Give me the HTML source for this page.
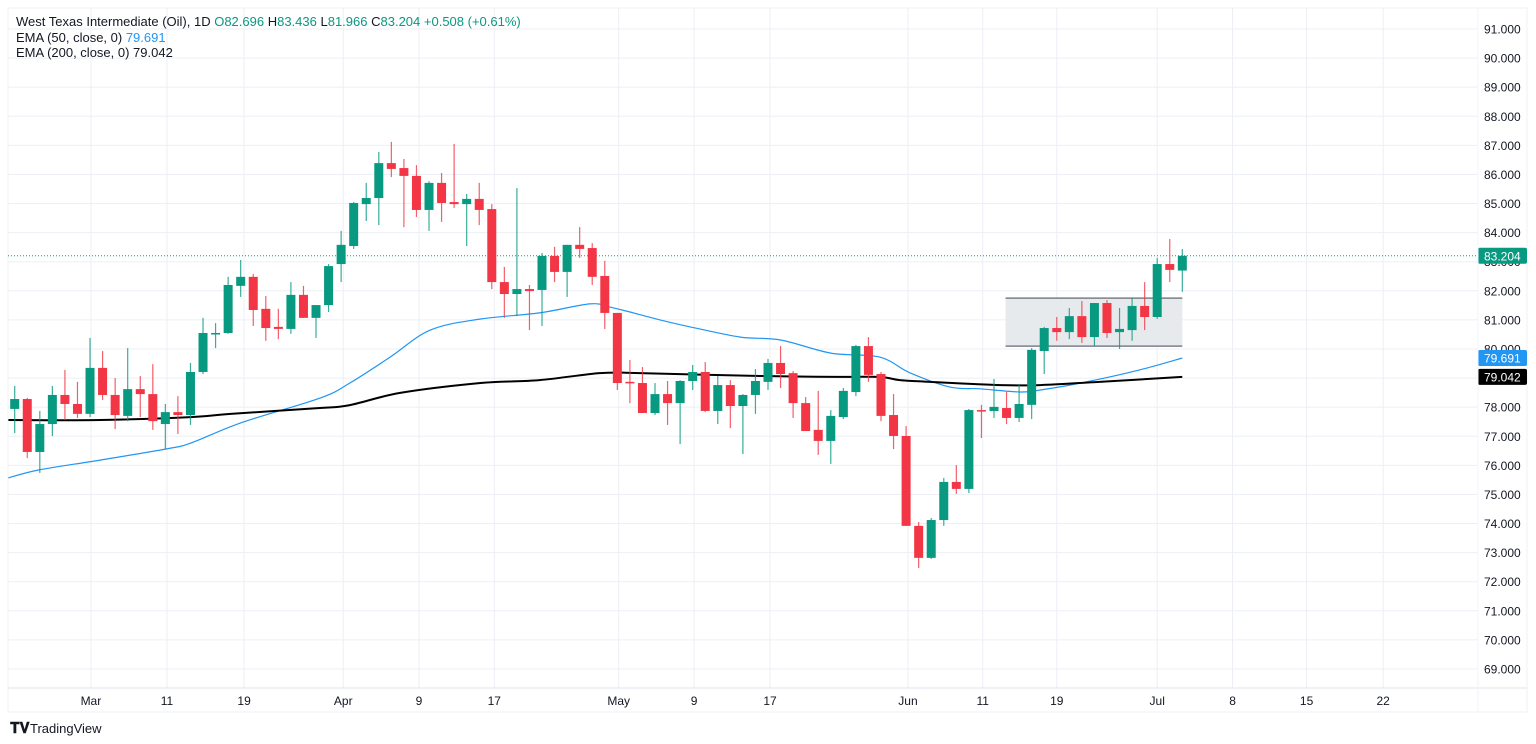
<!DOCTYPE html>
<html><head><meta charset="utf-8">
<style>
html,body{margin:0;padding:0;background:#fff;width:1536px;height:744px;overflow:hidden;font-family:"Liberation Sans",sans-serif}
svg text{font-family:"Liberation Sans",sans-serif}
</style></head>
<body>
<svg id="chart" width="1536" height="744" xmlns="http://www.w3.org/2000/svg">
<rect x="8" y="8" width="1519" height="704" fill="#fff" stroke="#eef0f3"/>
<g id="grid"></g>
<g id="zone"></g>
<g id="emas"></g>
<g id="candles"></g>
<g id="axes"></g>
<line x1="8" y1="688" x2="1527" y2="688" stroke="#e0e3eb"/>
<line x1="1478" y1="8" x2="1478" y2="712" stroke="#f0f3fa"/>
<g font-size="13">
<text x="16" y="26" fill="#131722">West Texas Intermediate (Oil), 1D <tspan fill="#089981">O82.696</tspan> <tspan fill="#131722">H</tspan><tspan fill="#089981">83.436</tspan> <tspan fill="#131722">L</tspan><tspan fill="#089981">81.966</tspan> <tspan fill="#131722">C</tspan><tspan fill="#089981">83.204</tspan> <tspan fill="#089981">+0.508 (+0.61%)</tspan></text>
<text x="16" y="42" fill="#131722">EMA (50, close, 0) <tspan fill="#2196f3">79.691</tspan></text>
<text x="16" y="57" fill="#131722">EMA (200, close, 0) 79.042</text>
</g>
<g>
<text x="10" y="733" font-size="15" font-weight="bold" fill="#131722">𝐓𝐕</text>
<text x="30" y="733" font-size="13" fill="#131722">TradingView</text>
</g>
</svg>
<script>
const opens=[77.94,78.28,76.46,77.42,78.42,78.11,77.77,79.35,78.42,77.70,78.62,78.45,77.42,77.83,77.73,79.21,80.52,80.55,82.17,82.48,81.38,80.76,80.69,81.86,81.07,81.51,82.92,83.54,84.98,85.19,86.39,86.22,85.95,84.78,85.71,85.05,84.98,85.16,84.81,82.30,81.89,82.06,82.03,83.20,82.65,83.58,83.47,82.51,81.24,78.87,78.83,77.80,78.45,78.14,78.90,79.21,77.87,78.76,78.04,78.42,78.87,79.52,79.17,78.14,77.22,76.84,77.66,78.52,80.10,79.14,77.73,77.01,73.92,72.82,74.12,75.43,75.19,77.90,77.87,77.97,77.63,78.08,79.93,80.72,80.58,81.13,80.41,81.58,80.58,80.65,81.48,81.10,82.92,82.696];
const closes=[78.28,76.46,77.42,78.42,78.11,77.77,79.35,78.42,77.73,78.62,78.45,77.52,77.83,77.73,79.21,80.55,80.55,82.20,82.48,81.34,80.72,80.69,81.86,81.07,81.51,82.85,83.58,85.02,85.19,86.39,86.19,85.95,84.78,85.71,85.02,84.98,85.16,84.78,82.30,81.89,82.06,81.99,83.20,82.65,83.58,83.44,82.48,81.24,78.83,78.83,77.80,78.45,78.14,78.90,79.21,77.87,78.76,78.04,78.42,78.90,79.52,79.14,78.14,77.18,76.84,77.70,78.56,80.10,79.11,77.70,77.01,73.92,72.82,74.12,75.43,75.19,77.90,77.87,78.01,77.63,78.11,79.97,80.72,80.58,81.13,80.41,81.58,80.55,80.69,81.48,81.10,82.92,82.72,83.204];
const highs=[78.73,78.32,77.87,78.73,79.28,78.87,80.38,79.93,79.00,80.03,79.07,79.48,78.11,78.38,79.52,81.07,80.89,82.48,83.06,82.58,81.82,81.38,82.30,82.17,81.51,82.92,84.06,85.05,85.71,86.77,87.12,86.53,86.32,85.77,86.05,87.05,85.33,85.71,84.98,82.82,85.53,82.20,83.30,83.51,83.58,84.19,83.64,83.03,81.24,79.62,79.38,78.83,78.90,78.93,79.45,79.55,79.07,78.93,78.45,79.31,79.66,80.10,79.24,78.35,78.56,77.90,78.66,80.14,80.41,79.21,78.45,77.35,74.05,74.19,75.57,76.01,77.94,78.08,78.97,78.52,78.80,80.03,80.76,81.10,81.41,81.65,81.58,81.68,81.41,81.75,82.30,83.13,83.78,83.436];
const lows=[77.11,76.25,75.74,77.01,77.56,77.63,77.66,78.25,77.25,77.52,77.66,77.22,76.56,77.08,77.39,79.14,80.03,80.52,81.79,80.79,80.28,80.34,80.52,81.07,80.38,81.27,82.30,83.44,84.40,84.26,85.91,84.19,84.54,84.06,84.37,84.85,83.54,84.26,82.06,81.07,81.13,80.65,80.79,82.30,81.79,83.13,82.20,80.69,78.59,78.14,77.80,77.73,77.39,76.73,78.59,77.83,77.42,77.28,76.39,77.77,78.59,78.66,77.63,77.18,76.36,76.05,77.59,78.38,78.87,77.52,76.56,73.92,72.47,72.78,73.92,75.02,75.05,76.94,77.63,77.42,77.49,77.59,79.14,80.28,80.34,80.21,80.10,80.38,80.00,80.28,80.65,81.03,82.30,81.966];
const ema50Idx=[-0.5,1.9,6.8,12,14,18,24.3,26.7,29.9,33.1,37.1,41.8,45.8,47.4,49,51.4,53.8,57.8,61,65,68.9,71.3,74.5,76.9,80.1,81.7,84.9,89.6,93];
const ema50Val=[75.57,75.84,76.18,76.56,76.76,77.46,78.31,78.83,79.72,80.65,81.03,81.24,81.55,81.44,81.27,81.00,80.76,80.41,80.31,79.86,79.72,79.18,78.69,78.63,78.52,78.59,78.83,79.28,79.69];
const ema200Idx=[-0.5,6.8,14,17.2,24.3,26.7,30.7,37.1,41.8,46.6,49.8,59.4,65.7,68.9,70.5,72.9,78.5,81.7,86.4,93];
const ema200Val=[77.56,77.56,77.66,77.77,77.97,78.07,78.49,78.83,78.93,79.17,79.17,79.07,79.04,79.04,78.93,78.87,78.76,78.76,78.87,79.04];
const priceTicks=[91,90,89,88,87,86,85,84,83,82,81,80,79,78,77,76,75,74,73,72,71,70,69];
const dateLabels=["Mar","11","19","Apr","9","17","May","9","17","Jun","11","19","Jul","8","15","22"];
const dateIdx=[6.07,12.13,18.27,26.17,32.2,38.2,48.11,54.11,60.16,71.15,77.1,83.0,91.0,97.0,102.9,109.0];
const zoneStart=79, zoneEnd=93, zoneTop=81.75, zoneBottom=80.10;
const lastClose=83.204, lastEma50=79.691, lastEma200=79.042;

const NS="http://www.w3.org/2000/svg";
const X0=14.7, DX=12.555;
function xs(i){return X0+i*DX;}
function ys(p){return 29+(91-p)*29.09;}
function mk(tag,attrs,parent){const e=document.createElementNS(NS,tag);for(const k in attrs)e.setAttribute(k,attrs[k]);parent.appendChild(e);return e;}

const grid=document.getElementById('grid'), axes=document.getElementById('axes');
priceTicks.forEach(p=>{
  const l=mk('line',{x1:8,x2:1478,y1:ys(p),y2:ys(p),stroke:'#eceff5','stroke-width':1},grid);
  
  
  const t=mk('text',{x:1484,y:ys(p)+4.5,'font-size':12,fill:'#131722'},axes);
  t.textContent=p.toFixed(3);
  
  
});
dateLabels.forEach((d,k)=>{
  const x=xs(dateIdx[k]);
  const l=mk('line',{x1:x,x2:x,y1:8,y2:688,stroke:'#eceff5','stroke-width':1},grid);
  
  
  const t=mk('text',{x:x,y:705,'font-size':12,fill:'#131722','text-anchor':'middle'},axes);
  t.textContent=d;
  
  
});
const dl=mk('line',{x1:8,x2:1478,y1:ys(lastClose),y2:ys(lastClose),stroke:'#089981','stroke-width':1,'stroke-dasharray':'1,2'},grid);



const zg=document.getElementById('zone');
const zx0=xs(zoneStart)-1;
const zr=mk('rect',{x:zx0,y:ys(zoneTop),width:xs(zoneEnd)-zx0,height:ys(zoneBottom)-ys(zoneTop),fill:'#e3e6ea',opacity:0.85},zg);


[zoneTop,zoneBottom].forEach(p=>{
  const l=mk('line',{x1:zx0,x2:xs(zoneEnd),y1:ys(p),y2:ys(p),stroke:'#7b7f88','stroke-width':1.5},zg);
  
  
});

const eg=document.getElementById('emas');
function path(idx,val){
  const P=idx.map((i,k)=>[Math.max(8,xs(i)),ys(val[k])]);
  let d='M'+P[0][0].toFixed(1)+','+P[0][1].toFixed(1);
  for(let k=0;k<P.length-1;k++){
    const p0=P[Math.max(0,k-1)],p1=P[k],p2=P[k+1],p3=P[Math.min(P.length-1,k+2)];
    const c1=[p1[0]+(p2[0]-p0[0])/6,p1[1]+(p2[1]-p0[1])/6];
    const c2=[p2[0]-(p3[0]-p1[0])/6,p2[1]-(p3[1]-p1[1])/6];
    d+=' C'+c1[0].toFixed(1)+','+c1[1].toFixed(1)+' '+c2[0].toFixed(1)+','+c2[1].toFixed(1)+' '+p2[0].toFixed(1)+','+p2[1].toFixed(1);
  }
  return d;
}
const e50=mk('path',{d:path(ema50Idx,ema50Val),fill:'none',stroke:'#2196f3','stroke-width':1.2},eg);


const e200=mk('path',{d:path(ema200Idx,ema200Val),fill:'none',stroke:'#000','stroke-width':2},eg);



const cg=document.getElementById('candles');
opens.forEach((o,i)=>{
  const c=closes[i], up=c>=o, col=up?'#089981':'#f23645', x=xs(i);
  const g=mk('g',{},cg);
  
  
  mk('line',{x1:x,x2:x,y1:ys(highs[i]),y2:ys(lows[i]),stroke:col,'stroke-width':1.2,opacity:0.8},g);
  const top=ys(Math.max(o,c)), h=Math.max(1.5,ys(Math.min(o,c))-top);
  mk('rect',{x:x-4.5,y:top,width:9,height:h,fill:col},g);
});

function badge(p,bg,name){
  const y=ys(p);
  const g=mk('g',{},axes);
  
  
  mk('rect',{x:1478,y:y-8,width:49,height:16,fill:bg,rx:2},g);
  const t=mk('text',{x:1484,y:y+4.5,'font-size':12,fill:'#fff'},g);
  t.textContent=p.toFixed(3);
}
badge(lastClose,'#089981','last-price-label');
badge(lastEma50,'#2196f3','ema50-price-label');
badge(lastEma200,'#000','ema200-price-label');
</script>
</body></html>
